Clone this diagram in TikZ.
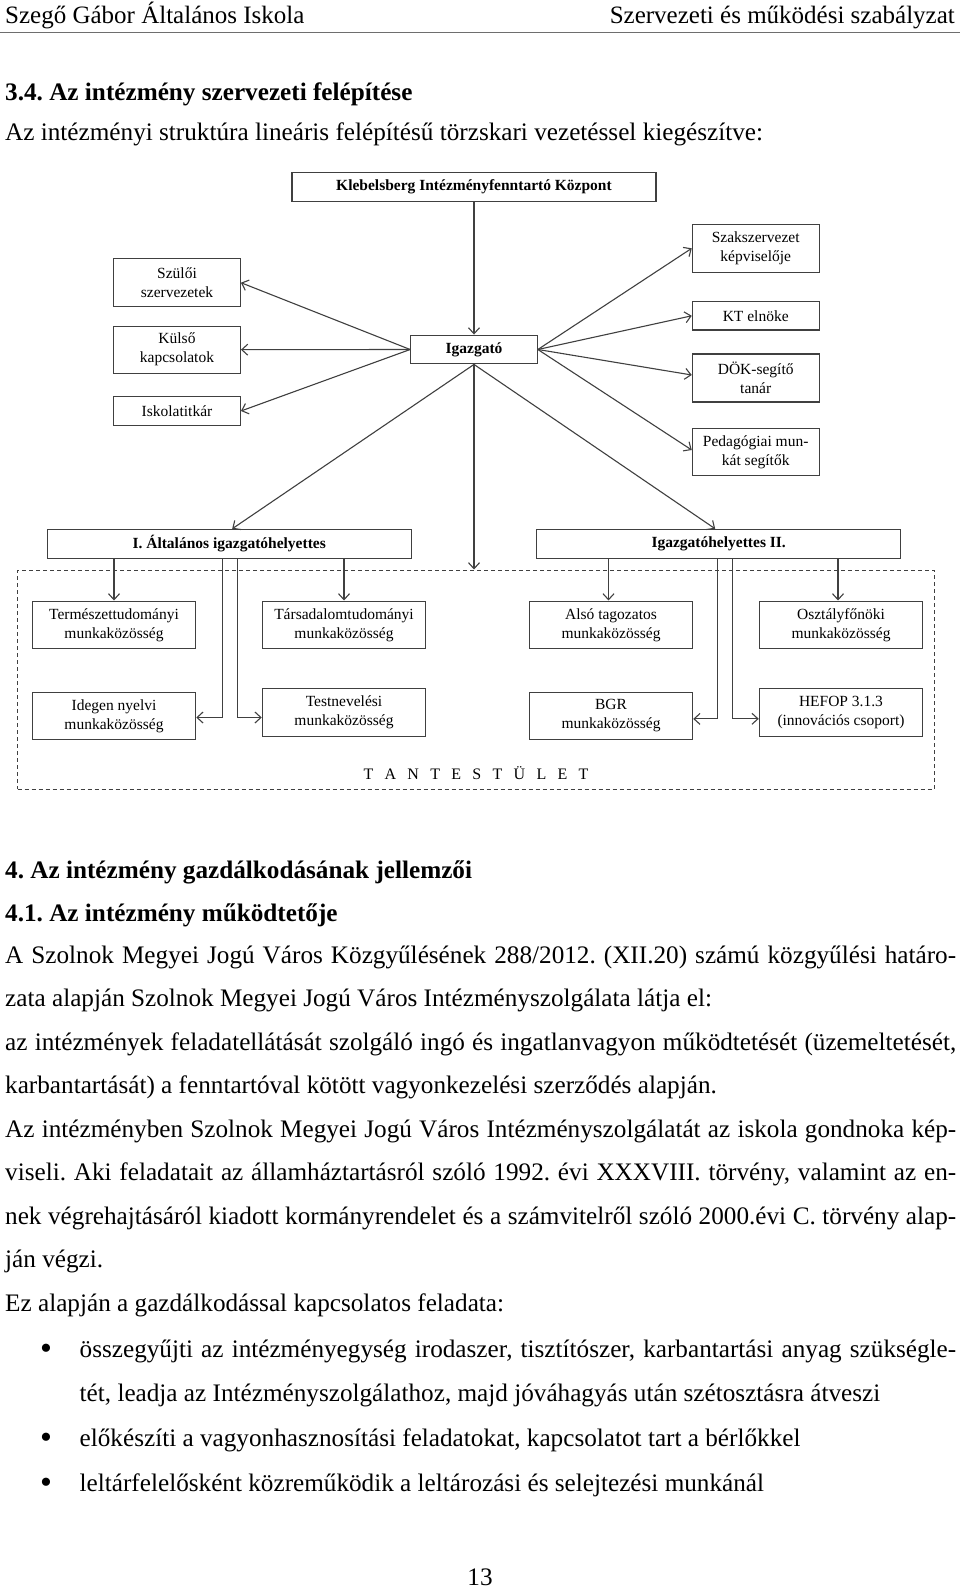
\documentclass[tikz,border=0pt]{standalone}
\usepackage{fontspec}
\setmainfont{Liberation Serif}
\usetikzlibrary{arrows.meta}
\definecolor{linegray}{RGB}{64,64,64}
\definecolor{rulegray}{RGB}{110,110,110}
\frenchspacing
\begin{document}
\begin{tikzpicture}[x=1pt,y=-1pt,
  box/.style={draw=linegray, line width=1.1pt, inner sep=0pt, align=center,
    font=\fontsize{15.5}{19}\selectfont},
  bbox/.style={box, font=\fontsize{15.5}{19}\selectfont\bfseries},
  mbox/.style={box, minimum width=163.4pt, minimum height=47.7pt},
  sbox/.style={box, minimum width=126.8pt},
  arr/.style={draw=linegray, line width=1.1pt,
    -{Straight Barb[length=6pt,width=11pt,line width=1.1pt]}},
  txt/.style={anchor=base west, inner sep=0pt, font=\fontsize{25.2}{30}\selectfont},
  htxt/.style={txt, font=\fontsize{25.2}{30}\selectfont\bfseries},
  bul/.style={anchor=base, inner sep=0pt, font=\fontsize{34}{34}\selectfont},
  hdr/.style={inner sep=0pt, anchor=base, font=\fontsize{25}{28}\selectfont},
  dashbox/.style={draw=linegray, line width=1pt, dash pattern=on 4pt off 3pt, inner sep=0pt}
]
\useasboundingbox[fill=white] (0,0) rectangle (960,1589);

% page header
\node[hdr, anchor=base west] (hleft) at (5,24) {Szegő Gábor Általános Iskola};
\node[hdr, anchor=base east] (hright) at (955,24) {Szervezeti és működési szabályzat};
\draw[rulegray, line width=1.5pt] (0,32.5) -- (960,32.5);

\node[htxt] (h34) at (5,101) {3.4. Az intézmény szervezeti felépítése};
\node[txt] (intro) at (5,141) {Az intézményi struktúra lineáris felépítésű törzskari vezetéssel kiegészítve:};

% diagram boxes
\node[bbox, minimum width=364pt, minimum height=29pt] (kik) at (474,187.2) {Klebelsberg Intézményfenntartó Központ};
\node[bbox, minimum width=126.6pt, minimum height=28.8pt] (igaz) at (474,349.5) {Igazgató};

\node[sbox, minimum height=48pt] (szuloi) at (177,282.7) {Szülői\\szervezetek};
\node[sbox, minimum height=47.3pt] (kulso) at (177,349.7) {Külső\\kapcsolatok};
\node[sbox, minimum height=28.6pt] (titkar) at (177,411) {Iskolatitkár};

\node[sbox, minimum height=48pt] (szaksz) at (755.7,248.3) {Szakszervezet\\képviselője};
\node[sbox, minimum height=28.3pt] (kt) at (755.7,315.8) {KT elnöke};
\node[sbox, minimum height=48pt] (dok) at (755.7,378) {DÖK-segítő\\tanár};
\node[sbox, minimum height=47.4pt] (ped) at (755.7,452) {Pedagógiai mun-\\kát segítők};

\node[bbox, minimum width=363.7pt, minimum height=28.7pt] (ialt) at (229.2,543.7) {I. Általános igazgatóhelyettes};
\node[bbox, minimum width=364pt, minimum height=28.7pt] (iii) at (718.7,543.7) {Igazgatóhelyettes II.};

\node[dashbox, minimum width=916.3pt, minimum height=219.3pt] (tantest) at (475.85,679.65) {};

\node[mbox] (term) at (114,624.9) {Természettudományi\\munkaközösség};
\node[mbox] (tars) at (344,624.9) {Társadalomtudományi\\munkaközösség};
\node[mbox] (also) at (611,624.9) {Alsó tagozatos\\munkaközösség};
\node[mbox] (oszt) at (841,624.9) {Osztályfőnöki\\munkaközösség};
\node[mbox] (idegen) at (114,715.9) {Idegen nyelvi\\munkaközösség};
\node[mbox] (testnev) at (344,712.3) {Testnevelési\\munkaközösség};
\node[mbox] (bgr) at (611,715.9) {BGR\\munkaközösség};
\node[mbox] (hefop) at (841,712.3) {HEFOP 3.1.3\\(innovációs csoport)};

\node[anchor=base west, inner sep=0pt, font=\fontsize{16}{19}\selectfont] (tlabel) at (363.3,779)
  {\hbox to 225pt{T\hfil A\hfil N\hfil T\hfil E\hfil S\hfil T\hfil Ü\hfil L\hfil E\hfil T}};

% connectors
\draw[arr] (kik.south -| igaz.north) -- (igaz.north);
\draw[arr] (igaz.west) -- (szuloi.east);
\draw[arr] (igaz.west) -- (kulso.east);
\draw[arr] (igaz.west) -- (titkar.east);
\draw[arr] (igaz.east) -- (szaksz.west);
\draw[arr] (igaz.east) -- (kt.west);
\draw[arr] (igaz.east) -- ([yshift=3pt]dok.west);
\draw[arr] (igaz.east) -- ([yshift=2pt]ped.west);
\draw[arr] (igaz.south) -- ([xshift=3pt]ialt.north);
\draw[arr] (igaz.south) -- (igaz.south |- tantest.north);
\draw[arr] (igaz.south) -- ([xshift=-3.5pt]iii.north);

\draw[arr] (term.north |- ialt.south) -- (term.north);
\draw[arr] (tars.north |- ialt.south) -- (tars.north);
\draw[arr] ([xshift=-7pt]ialt.south) |- ([yshift=-1.6pt]idegen.east);
\draw[arr] ([xshift=8.4pt]ialt.south) |- ([yshift=-5.2pt]testnev.west);

\draw[arr] ([xshift=-2.5pt]also.north |- iii.south) -- ([xshift=-2.5pt]also.north);
\draw[arr] ([xshift=-3pt]oszt.north |- iii.south) -- ([xshift=-3pt]oszt.north);
\draw[arr] ([xshift=-1pt]iii.south) |- ([yshift=-3pt]bgr.west -| bgr.east);
\draw[arr] ([xshift=14pt]iii.south) |- ([yshift=-6.5pt]hefop.west);

% text below
\node[htxt] (h4) at (5,878) {4. Az intézmény gazdálkodásának jellemzői};
\node[htxt] (h41) at (5,921.7) {4.1. Az intézmény működtetője};
\node[txt] (p1) at (5,963) {\hbox to 951pt{A Szolnok Megyei Jogú Város Közgyűlésének 288/2012. (XII.20) számú közgyűlési határo-}};
\node[txt] (p2) at (5,1006.5) {zata alapján Szolnok Megyei Jogú Város Intézményszolgálata látja el:};
\node[txt] (p3) at (5,1050) {\hbox to 951pt{az intézmények feladatellátását szolgáló ingó és ingatlanvagyon működtetését (üzemeltetését,}};
\node[txt] (p4) at (5,1093.5) {karbantartását) a fenntartóval kötött vagyonkezelési szerződés alapján.};
\node[txt] (p5) at (5,1137) {\hbox to 951pt{Az intézményben Szolnok Megyei Jogú Város Intézményszolgálatát az iskola gondnoka kép-}};
\node[txt] (p6) at (5,1180.5) {\hbox to 951pt{viseli. Aki feladatait az államháztartásról szóló 1992. évi XXXVIII. törvény, valamint az en-}};
\node[txt] (p7) at (5,1224) {\hbox to 951pt{nek végrehajtásáról kiadott kormányrendelet és a számvitelről szóló 2000.évi C. törvény alap-}};
\node[txt] (p8) at (5,1267.5) {ján végzi.};
\node[txt] (p9) at (5,1311) {Ez alapján a gazdálkodással kapcsolatos feladata:};

\node[bul] (b1) at (46,1359) {•};
\node[txt] (l1a) at (79.5,1357) {\hbox to 876.5pt{összegyűjti az intézményegység irodaszer, tisztítószer, karbantartási anyag szükségle-}};
\node[txt] (l1b) at (79.5,1401) {tét, leadja az Intézményszolgálathoz, majd jóváhagyás után szétosztásra átveszi};
\node[bul] (b2) at (46,1448) {•};
\node[txt] (l2) at (79.5,1446) {előkészíti a vagyonhasznosítási feladatokat, kapcsolatot tart a bérlőkkel};
\node[bul] (b3) at (46,1493) {•};
\node[txt] (l3) at (79.5,1491) {leltárfelelősként közreműködik a leltározási és selejtezési munkánál};

\node[txt, anchor=base] (pnum) at (480,1585) {13};
\end{tikzpicture}
\end{document}
